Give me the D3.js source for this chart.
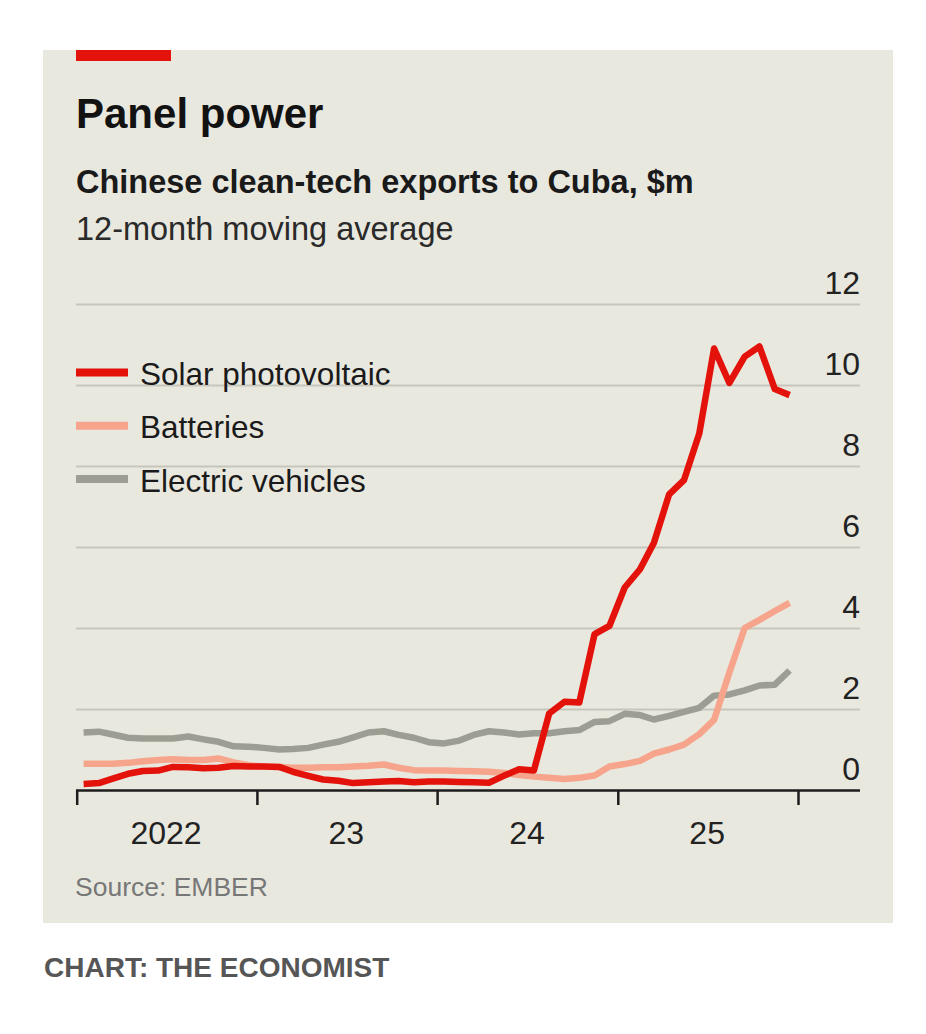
<!DOCTYPE html>
<html>
<head>
<meta charset="utf-8">
<script src="https://cdn.jsdelivr.net/npm/d3@7"></script>
<style>
  body { margin: 0; background: #fff; }
  text { font-family: "Liberation Sans", Arial, sans-serif; }
</style>
</head>
<body>
<svg id="chart"></svg>
<script>
// monthly values, Jan 2022 - Dec 2025, $m (12-month moving average)
var startYear = 2022;
var solar = [0.15, 0.17, 0.28, 0.40, 0.47, 0.48, 0.57, 0.56, 0.54, 0.55, 0.59, 0.58,
             0.58, 0.57, 0.45, 0.35, 0.26, 0.23, 0.17, 0.19, 0.21, 0.22, 0.19, 0.21,
             0.21, 0.20, 0.19, 0.18, 0.35, 0.51, 0.48, 1.89, 2.18, 2.16, 3.85, 4.05,
             5.00, 5.45, 6.10, 7.30, 7.65, 8.80, 10.90, 10.05, 10.70, 10.95, 9.90, 9.75];
var batteries = [0.65, 0.65, 0.65, 0.67, 0.71, 0.74, 0.76, 0.74, 0.74, 0.78, 0.68, 0.61,
                 0.58, 0.57, 0.55, 0.55, 0.56, 0.56, 0.58, 0.60, 0.63, 0.55, 0.49, 0.48,
                 0.48, 0.47, 0.46, 0.45, 0.42, 0.37, 0.33, 0.30, 0.27, 0.30, 0.36, 0.58,
                 0.64, 0.72, 0.90, 1.00, 1.12, 1.38, 1.73, 2.90, 4.00, 4.20, 4.42, 4.62];
var evs = [1.42, 1.44, 1.37, 1.29, 1.27, 1.27, 1.27, 1.32, 1.25, 1.19, 1.08, 1.07,
           1.04, 1.00, 1.01, 1.04, 1.12, 1.19, 1.30, 1.42, 1.45, 1.36, 1.29, 1.18,
           1.15, 1.22, 1.36, 1.45, 1.42, 1.37, 1.40, 1.40, 1.45, 1.48, 1.68, 1.70,
           1.88, 1.85, 1.74, 1.83, 1.93, 2.03, 2.33, 2.36, 2.46, 2.58, 2.60, 2.95];
var seriesNames = ["Solar photovoltaic", "Batteries", "Electric vehicles"];
var seriesColors = ["#e3120b", "#f6a58c", "#9d9e93"];
var yTicks = [0, 2, 4, 6, 8, 10, 12];
var yearTicks = [2022, 2023, 2024, 2025, 2026];
var yearLabels = ["2022", "23", "24", "25"];

document.addEventListener("DOMContentLoaded", () => {
  var width = 926, height = 1034;
  var left = 76, right = 860, top = 304, bottom = 790;

  var svg = d3.select("#chart")
    .attr("width", width)
    .attr("height", height);

  svg.append("rect")
    .attr("width", width).attr("height", height)
    .attr("fill", "#ffffff");

  // panel
  svg.append("rect")
    .attr("x", 43).attr("y", 50)
    .attr("width", 850).attr("height", 873)
    .attr("fill", "#e9e8df");

  svg.append("rect")
    .attr("x", 76).attr("y", 50)
    .attr("width", 95).attr("height", 11)
    .attr("fill", "#e3120b");

  svg.append("text")
    .attr("x", 76).attr("y", 128)
    .style("font-size", "42px").style("font-weight", "bold")
    .attr("fill", "#121212")
    .text("Panel power");

  svg.append("text")
    .attr("x", 76).attr("y", 193)
    .style("font-size", "32.5px").style("font-weight", "bold")
    .attr("fill", "#1a1a1a")
    .text("Chinese clean-tech exports to Cuba, $m");

  svg.append("text")
    .attr("x", 76).attr("y", 240)
    .style("font-size", "32.5px")
    .attr("fill", "#2a2a2a")
    .text("12-month moving average");

  var dates = solar.map((d, i) => new Date(startYear, i, 15));

  var x = d3.scaleTime()
    .domain([new Date(2022, 0, 1), new Date(2026, 0, 1)])
    .range([76.7, 798]);

  var y = d3.scaleLinear()
    .domain([0, 12])
    .range([bottom, top]);

  // gridlines + right-hand labels
  var yAxis = d3.axisLeft(y)
    .tickValues(yTicks)
    .tickSize(-(right - left))
    .tickFormat(d3.format("d"));

  var gy = svg.append("g")
    .attr("transform", "translate(" + left + ",0)")
    .call(yAxis);
  gy.select(".domain").remove();
  gy.selectAll(".tick line")
    .attr("stroke", d => d === 0 ? "#1c1c1c" : "#c7c6bc")
    .attr("stroke-width", d => d === 0 ? 2.5 : 2);
  gy.selectAll(".tick text")
    .attr("x", right - left)
    .attr("dy", -11)
    .attr("text-anchor", "end")
    .attr("fill", "#222")
    .style("font-size", "32px");

  // series, drawn back to front
  var series = [evs, batteries, solar];
  var colors = [seriesColors[2], seriesColors[1], seriesColors[0]];

  var line = d3.line()
    .x((d, i) => x(dates[i]))
    .y(d => y(d));

  svg.selectAll(".series")
    .data(series)
    .join("path")
    .attr("class", "series")
    .attr("d", line)
    .attr("fill", "none")
    .attr("stroke", (d, i) => colors[i])
    .attr("stroke-width", 6.5)
    .attr("stroke-linejoin", "round");

  // x axis ticks
  var xAxis = d3.axisBottom(x)
    .tickValues(yearTicks.map(yr => new Date(yr, 0, 1)))
    .tickSize(15)
    .tickFormat("");

  var gx = svg.append("g")
    .attr("transform", "translate(0," + y(0) + ")")
    .call(xAxis);
  gx.select(".domain").remove();
  gx.selectAll(".tick line")
    .attr("stroke", "#1c1c1c")
    .attr("stroke-width", 2.5);

  svg.selectAll(".year")
    .data(yearLabels)
    .join("text")
    .attr("class", "year")
    .attr("x", (d, i) => x(new Date(startYear + i, 6, 1)))
    .attr("y", 844)
    .attr("text-anchor", "middle")
    .attr("fill", "#222")
    .style("font-size", "32px")
    .text(d => d);

  // legend
  var legend = svg.selectAll(".legend")
    .data(seriesNames)
    .join("g")
    .attr("class", "legend")
    .attr("transform", (d, i) => "translate(76," + (372.5 + i * 53.3) + ")");

  legend.append("line")
    .attr("x1", 0).attr("x2", 52)
    .attr("stroke", (d, i) => seriesColors[i])
    .attr("stroke-width", 8);

  legend.append("text")
    .attr("x", 64).attr("y", 12.5)
    .attr("fill", "#1a1a1a")
    .style("font-size", "31.5px")
    .text(d => d);

  svg.append("text")
    .attr("x", 75).attr("y", 896)
    .style("font-size", "26.5px")
    .attr("fill", "#777")
    .text("Source: EMBER");

  svg.append("text")
    .attr("x", 44).attr("y", 977)
    .style("font-size", "28px").style("font-weight", "bold")
    .attr("fill", "#565656")
    .text("CHART: THE ECONOMIST");
});
</script>
</body>
</html>
